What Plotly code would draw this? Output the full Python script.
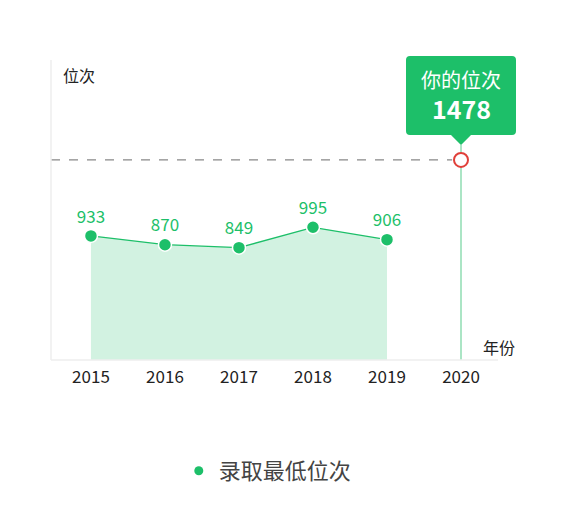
import plotly.graph_objects as go

# données
years = [2015, 2016, 2017, 2018, 2019]
min_rank = [933, 870, 849, 995, 906]
your_year = 2020
your_rank = 1478
tick_years = [2015, 2016, 2017, 2018, 2019, 2020]

GREEN = "#1dbf69"
FONT = "Noto Sans CJK SC"

# géométrie (px, repères de l'image ; la page décale le graphique de 8 px)
OFF = 8
W, H = 567, 512
L, R, T, B = 51 - OFF, 567 - 498 + OFF, 60 - OFF, 512 - 360 + OFF
pw, ph = W - L - R, H - T - B

x_range = [2014.46, 2020.5]
y_range = [43, 2195]


def px(xp):
    return (xp - 51) / pw


def py(yp):
    return (360 - yp) / ph


fig = go.Figure()

# zone remplie + ligne
fig.add_trace(go.Scatter(
    x=years, y=min_rank,
    mode="lines+markers+text",
    text=[str(v) for v in min_rank],
    textposition="top center",
    textfont=dict(color=GREEN, size=17, family=FONT),
    line=dict(color=GREEN, width=1.3),
    marker=dict(size=13, color=GREEN, line=dict(color="white", width=1.5)),
    fill="tozeroy", fillcolor="rgba(29,191,105,0.2)",
    showlegend=False, cliponaxis=False,
))

# légende
fig.add_trace(go.Scatter(
    x=[None], y=[None], mode="markers",
    marker=dict(size=9, color=GREEN),
    name="录取最低位次",
))

# point "votre position"
fig.add_trace(go.Scatter(
    x=[your_year], y=[your_rank], mode="markers",
    marker=dict(size=14, color="white", line=dict(color="#e0403a", width=2)),
    showlegend=False, cliponaxis=False,
))

shapes = [
    # ligne pointillée horizontale
    dict(type="line", xref="x", yref="y",
         x0=x_range[0], x1=your_year - 0.12, y0=your_rank, y1=your_rank,
         line=dict(color="#888", width=1.2, dash="dash"), layer="below"),
    # ligne verticale 2020
    dict(type="line", xref="x", yref="paper",
         x0=your_year, x1=your_year, y0=0, y1=py(145),
         line=dict(color="#8fdcb2", width=1.5), layer="below"),
    # axe vertical
    dict(type="line", xref="paper", yref="paper",
         x0=0, x1=0, y0=0, y1=1,
         line=dict(color="#eeeeee", width=1.5)),
    # axe horizontal
    dict(type="line", xref="paper", yref="paper",
         x0=0, x1=1, y0=0, y1=0,
         line=dict(color="#eeeeee", width=1.5)),
]

# bulle
x0b, x1b, y0b, y1b, r = px(406), px(516), py(56), py(135), 4
rx, ry = r / pw, r / ph
cx, tip = px(461), py(145)
hw = 10 / pw
path = (
    f"M {x0b + rx} {y0b} L {x1b - rx} {y0b} Q {x1b} {y0b} {x1b} {y0b - ry} "
    f"L {x1b} {y1b + ry} Q {x1b} {y1b} {x1b - rx} {y1b} "
    f"L {cx + hw} {y1b} L {cx} {tip} L {cx - hw} {y1b} "
    f"L {x0b + rx} {y1b} Q {x0b} {y1b} {x0b} {y1b + ry} "
    f"L {x0b} {y0b - ry} Q {x0b} {y0b} {x0b + rx} {y0b} Z"
)
shapes.append(dict(type="path", xref="paper", yref="paper", path=path,
                   fillcolor=GREEN, line=dict(width=0), layer="below"))

annotations = [
    dict(x=cx, y=py(79), xref="paper", yref="paper", text="你的位次",
         xanchor="center", yanchor="middle", showarrow=False,
         font=dict(color="white", size=20, family=FONT)),
    dict(x=cx, y=py(108), xref="paper", yref="paper", text="<b>1478</b>",
         xanchor="center", yanchor="middle", showarrow=False,
         font=dict(color="white", size=25, family=FONT)),
    dict(x=px(61), y=py(75), xref="paper", yref="paper", text="位次",
         xanchor="left", yanchor="middle", showarrow=False,
         font=dict(color="#222", size=16, family=FONT)),
    dict(x=px(481), y=py(347), xref="paper", yref="paper", text="年份",
         xanchor="left", yanchor="middle", showarrow=False,
         font=dict(color="#222", size=16, family=FONT)),
]

fig.update_layout(
    width=W, height=H,
    margin=dict(l=L, r=R, t=T, b=B),
    paper_bgcolor="white", plot_bgcolor="white",
    font=dict(family=FONT),
    xaxis=dict(range=x_range, tickvals=tick_years, ticktext=[str(y) for y in tick_years],
               showgrid=False, zeroline=False, showline=False, ticks="",
               ticklabelstandoff=5,
               tickfont=dict(size=17, color="#222")),
    yaxis=dict(range=y_range, showgrid=False, zeroline=False, showline=False,
               showticklabels=False),
    shapes=shapes,
    annotations=annotations,
    legend=dict(orientation="h", x=0.485, xanchor="center", y=py(471), yanchor="middle",
                font=dict(size=22, color="#444", family=FONT)),
)

fig.write_html("out.html")
